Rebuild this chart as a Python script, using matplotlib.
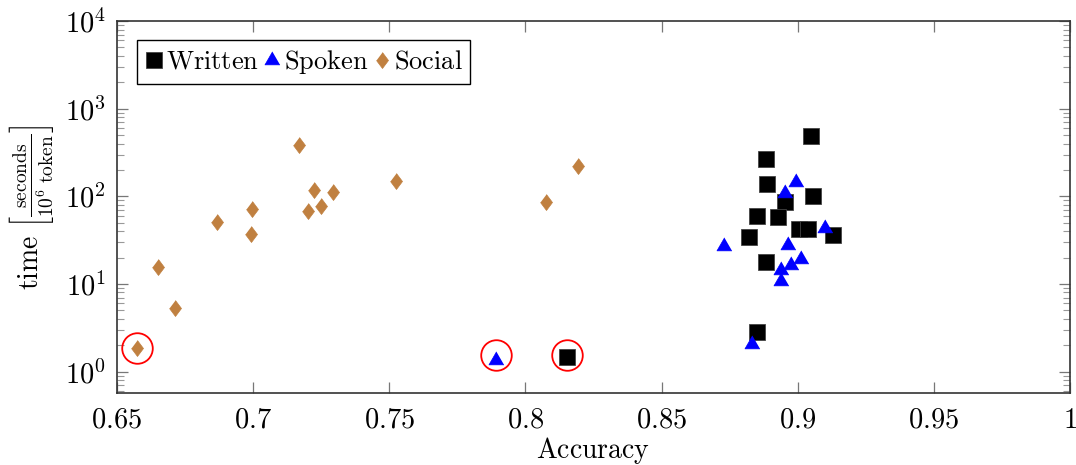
import numpy as np
import matplotlib
matplotlib.use("Agg")
import matplotlib.pyplot as plt
from matplotlib.ticker import FixedLocator, FuncFormatter, LogLocator, NullFormatter

plt.rcParams['font.family'] = ['DejaVu Serif']
plt.rcParams['mathtext.fontset'] = 'cm'

# ---- data ----
written_acc = [0.9049, 0.8882, 0.8889, 0.9057, 0.8954, 0.8851, 0.8928, 0.9005, 0.9037,
               0.9130, 0.8823, 0.8882, 0.8849, 0.8153]
written_time = [487, 268, 137, 101.6, 85.5, 59, 58, 42.7, 42.4, 36.2, 34.4, 17.7, 2.81, 1.47]

spoken_acc = [0.8994, 0.8955, 0.9102, 0.8731, 0.8965, 0.9014, 0.8977, 0.8938, 0.8938,
              0.8831, 0.7892]
spoken_time = [147.5, 110, 43, 27.1, 27.8, 19.4, 16.6, 14.6, 10.9, 2.05, 1.36]

social_acc = [0.7170, 0.7523, 0.7222, 0.7293, 0.6997, 0.7250, 0.7200, 0.6868, 0.6994,
              0.6649, 0.6714, 0.6575, 0.8195, 0.8076]
social_time = [382, 148, 119, 111, 71.7, 76.9, 67.5, 50.9, 36.9, 15.6, 5.33, 1.85, 220, 85.5]

circle_acc = [0.6575, 0.7892, 0.8153]
circle_time = [1.85, 1.55, 1.55]

x_ticks = [0.65, 0.7, 0.75, 0.8, 0.85, 0.9, 0.95, 1.0]
x_tick_labels = ['0.65', '0.7', '0.75', '0.8', '0.85', '0.9', '0.95', '1']

# ---- figure ----
fig = plt.figure(figsize=(10.76, 4.65), dpi=100)
ax = fig.add_axes([0.1087, 0.1555, 0.8857, 0.7993])

tri = [(0, 1), (-0.866, -0.5), (0.866, -0.5)]
dia = [(0, 1), (0.75, 0), (0, -1), (-0.75, 0)]

ax.plot(written_acc, written_time, linestyle='none', marker='s', markersize=12,
        color='black', markeredgecolor='#444444', markeredgewidth=0.6,
        label=r'$\mathrm{Written}$', zorder=3)
ax.plot(spoken_acc, spoken_time, linestyle='none', marker=tri, markersize=12.5,
        color='#0000ff', markeredgecolor='#0000ff', markeredgewidth=0.5,
        label=r'$\mathrm{Spoken}$', zorder=4)
ax.plot(social_acc, social_time, linestyle='none', marker=dia, markersize=11.5,
        color='#c08040', markeredgecolor='#c08040', markeredgewidth=0.5,
        label=r'$\mathrm{Social}$', zorder=5)
ax.plot(circle_acc, circle_time, linestyle='none', marker='o', markersize=22,
        markerfacecolor='none', markeredgecolor='red', markeredgewidth=1.3, zorder=6)

ax.set_yscale('log')
ax.set_xlim(0.65, 1.0)
ax.set_ylim(10 ** -0.24, 1e4)

ax.xaxis.set_major_locator(FixedLocator(x_ticks))
ax.set_xticklabels([r'$%s$' % t for t in x_tick_labels])
ax.yaxis.set_major_locator(LogLocator(base=10, numticks=10))
ax.yaxis.set_major_formatter(FuncFormatter(lambda v, p: r'$10^{%d}$' % int(round(np.log10(v)))))
ax.yaxis.set_minor_locator(LogLocator(base=10, subs=np.arange(2, 10), numticks=20))
ax.yaxis.set_minor_formatter(NullFormatter())

ax.tick_params(axis='both', which='major', direction='in', top=True, right=True,
               length=8, width=0.9, color='#777777', labelsize=20.5, pad=8)
ax.tick_params(axis='y', which='minor', direction='in', left=True, right=True,
               length=5, width=0.8, color='#999999')
ax.tick_params(axis='x', which='major', pad=10)
for s in ax.spines.values():
    s.set_color('#333333')
    s.set_linewidth(1.2)

ax.set_xlabel(r'$\mathrm{Accuracy}$', fontsize=20, labelpad=1)
ax.set_ylabel(r'$\mathrm{time}\ \left[\frac{\mathrm{seconds}}{10^6\ \mathrm{token}}\right]$',
              fontsize=20, labelpad=6)

leg = ax.legend(loc='upper left', bbox_to_anchor=(0.021, 0.949), borderaxespad=0, ncol=3,
                fontsize=19, handlelength=0.7, handletextpad=0.1, columnspacing=0.15,
                borderpad=0.3, fancybox=False, framealpha=1, edgecolor='black')
leg.get_frame().set_linewidth(1.0)

fig.savefig('out.png', dpi=100)
